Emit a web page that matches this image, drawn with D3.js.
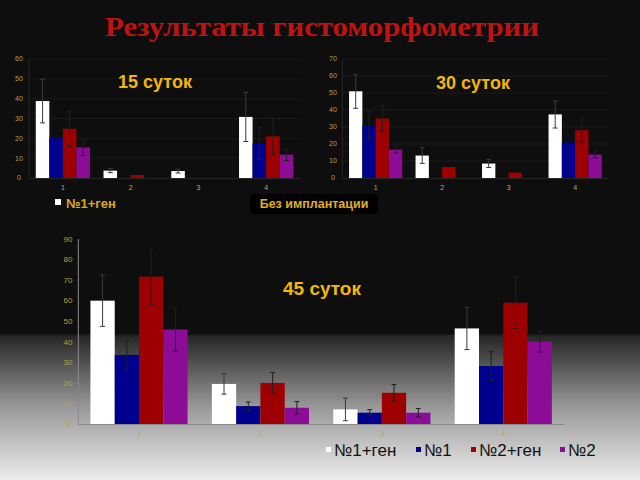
<!DOCTYPE html>
<html><head><meta charset="utf-8">
<script src="https://cdn.jsdelivr.net/npm/d3@7"></script>
<style>html,body{margin:0;padding:0;background:#0e0e0e;}svg{display:block;}</style>
</head><body>
<svg id="c" width="640" height="480"></svg>
<script>
const categories = ["1","2","3","4"];
const seriesNames = ["№1+ген","№1","№2+ген","№2"];
const seriesColors = ["#ffffff","#00008f","#9c0000","#8c0c98"];

const d15 = [[38.8,20.6,24.8,15.4],[3.7,0.5,1.5,0],[3.5,0,0,0],[30.8,17.4,21,11.8]];
const e15 = [[11,0,9,4],[1,0,0,0],[1,0,0,0],[12.4,8,9,3]];
const d30 = [[51,31,35,16.7],[13.2,0,6.5,0],[8.5,0,3.2,0],[37.4,20.9,28.1,13.8]];
const e30 = [[10,8,7.5,2],[4.6,0,0,0],[2.3,0,0,0],[8,0,7,2]];
const d45 = [[60,33.6,71.7,46],[19.5,8.7,20,7.9],[7.1,5.5,15.2,5.5],[46.5,28.2,59,40]];
const e45 = [[12.5,7,13.5,10.5],[5,2,5,3],[5.5,1.5,4,2],[10.3,7,12.5,5]];
const ticks15 = [0,10,20,30,40,50,60];
const ticks30 = [0,10,20,30,40,50,60,70];
const ticks45 = [0,10,20,30,40,50,60,70,80,90];

const svg = d3.select("#c");
const defs = svg.append("defs");
const g = defs.append("linearGradient").attr("id","bg").attr("x1",0).attr("y1",0).attr("x2",0).attr("y2",1);
g.append("stop").attr("offset","0").attr("stop-color","#0e0e0e");
g.append("stop").attr("offset","0.695").attr("stop-color","#0e0e0e");
g.append("stop").attr("offset","0.70").attr("stop-color","#262626");
g.append("stop").attr("offset","0.85").attr("stop-color","#9a9a9a");
g.append("stop").attr("offset","1").attr("stop-color","#ececec");
svg.append("rect").attr("width",640).attr("height",480).attr("fill","url(#bg)");

svg.append("text").attr("x",322).attr("y",36).attr("text-anchor","middle")
  .attr("font-family","Liberation Serif, serif").attr("font-weight","bold").attr("font-size",27)
  .attr("fill","#bf1212").attr("textLength",434).attr("lengthAdjust","spacingAndGlyphs")
  .text("Результаты гистоморфометрии");

function chart(opts){
  const {data, err, ticks, xr, yr, max, tickX, tickFs, grid, gridColor, axisColor, labelY, labelColor, tickColor} = opts;
  const x = d3.scaleBand().domain(categories).range(xr).paddingInner(0.2).paddingOuter(0.1);
  const xs = d3.scaleBand().domain(seriesNames).range([0, x.bandwidth()]);
  const y = d3.scaleLinear().domain([0,max]).range(yr);
  const G = svg.append("g");
  if(grid){
    G.selectAll("line.grid").data(ticks.slice(1)).join("line")
      .attr("x1",xr[0]).attr("x2",xr[1]).attr("y1",d=>y(d)).attr("y2",d=>y(d))
      .attr("stroke",gridColor).attr("stroke-width",1);
  }
  G.append("line").attr("x1",xr[0]).attr("x2",xr[0]).attr("y1",y(0)).attr("y2",y(max)).attr("stroke",axisColor);
  G.selectAll("text.yt").data(ticks).join("text")
    .attr("x",tickX).attr("y",d=>y(d)+tickFs*0.35).attr("text-anchor","middle")
    .attr("font-family","Liberation Sans, Arial, sans-serif").attr("font-size",tickFs)
    .attr("fill",tickColor).text(d=>d);
  categories.forEach((c,ci)=>{
    const gg = G.append("g").attr("transform",`translate(${x(c)},0)`);
    gg.selectAll("rect").data(data[ci]).join("rect")
      .attr("x",(d,i)=>xs(seriesNames[i])).attr("width",xs.bandwidth())
      .attr("y",d=>y(d)).attr("height",d=>y(0)-y(d))
      .attr("fill",(d,i)=>seriesColors[i]);
    data[ci].forEach((v,i)=>{
      const e = err[ci][i]; if(!e) return;
      const cx = xs(seriesNames[i]) + xs.bandwidth()/2;
      const col = i===0 ? "#3a3a3a" : "#202020";
      gg.append("line").attr("x1",cx).attr("x2",cx).attr("y1",y(v+e)).attr("y2",y(Math.max(0,v-e))).attr("stroke",col).attr("stroke-width",1);
      [v+e, Math.max(0,v-e)].forEach(t=>gg.append("line").attr("x1",cx-2.5).attr("x2",cx+2.5).attr("y1",y(t)).attr("y2",y(t)).attr("stroke",col).attr("stroke-width",1));
    });
  });
  G.append("line").attr("x1",xr[0]).attr("x2",xr[1]).attr("y1",y(0)+0.5).attr("y2",y(0)+0.5).attr("stroke",axisColor);
  G.selectAll("text.xt").data(categories).join("text")
    .attr("x",d=>x(d)+x.bandwidth()/2).attr("y",labelY).attr("text-anchor","middle")
    .attr("font-family","Liberation Sans, Arial, sans-serif").attr("font-size",tickFs)
    .attr("fill",labelColor).text(d=>d);
}

chart({data:d15, err:e15, ticks:ticks15, xr:[29,300], yr:[178,59], max:60, tickX:19, tickFs:7,
  grid:true, gridColor:"#1a1a1a", axisColor:"#262626", labelY:190, labelColor:"#b4ab90", tickColor:"#b8a050"});
chart({data:d30, err:e30, ticks:ticks30, xr:[342.4,608.4], yr:[178,59], max:70, tickX:333, tickFs:7,
  grid:true, gridColor:"#1a1a1a", axisColor:"#262626", labelY:190, labelColor:"#b4ab90", tickColor:"#b8a050"});
chart({data:d45, err:e45, ticks:ticks45, xr:[78.3,564], yr:[424,239], max:90, tickX:68, tickFs:8,
  grid:false, gridColor:"#1a1a1a", axisColor:"#8a8a8a", labelY:436, labelColor:"#b8a848", tickColor:"#b8a040"});

const gold = "#f2b705";
const titleFont = "Liberation Sans, Arial, sans-serif";
[["15 суток",155,88,18],["30 суток",473,89,18],["45 суток",322,295,19]].forEach(t=>{
  svg.append("text").attr("x",t[1]).attr("y",t[2]).attr("text-anchor","middle")
    .attr("font-family",titleFont).attr("font-weight","bold").attr("font-size",t[3])
    .attr("fill",gold).text(t[0]);
});

// top-left legend fragment
svg.append("rect").attr("x",55).attr("y",199).attr("width",6).attr("height",6).attr("fill",seriesColors[0]);
svg.append("text").attr("x",66).attr("y",208).attr("font-family",titleFont).attr("font-weight","bold")
  .attr("font-size",13).attr("fill","#d9a820").text(seriesNames[0]);

// "Без имплантации" box
svg.append("rect").attr("x",250).attr("y",194).attr("width",128).attr("height",20).attr("rx",3).attr("fill","#000");
svg.append("text").attr("x",314).attr("y",208).attr("text-anchor","middle").attr("font-family",titleFont)
  .attr("font-weight","bold").attr("font-size",12.5).attr("fill","#e0ae20").text("Без имплантации");

// bottom legend
const legX = [326,416,471,560];
seriesNames.forEach((s,i)=>{
  svg.append("rect").attr("x",legX[i]).attr("y",447).attr("width",5).attr("height",5).attr("fill",seriesColors[i]);
  svg.append("text").attr("x",legX[i]+8).attr("y",456).attr("font-family",titleFont)
    .attr("font-size",17).attr("fill","#111").text(s);
});
</script>
</body></html>
